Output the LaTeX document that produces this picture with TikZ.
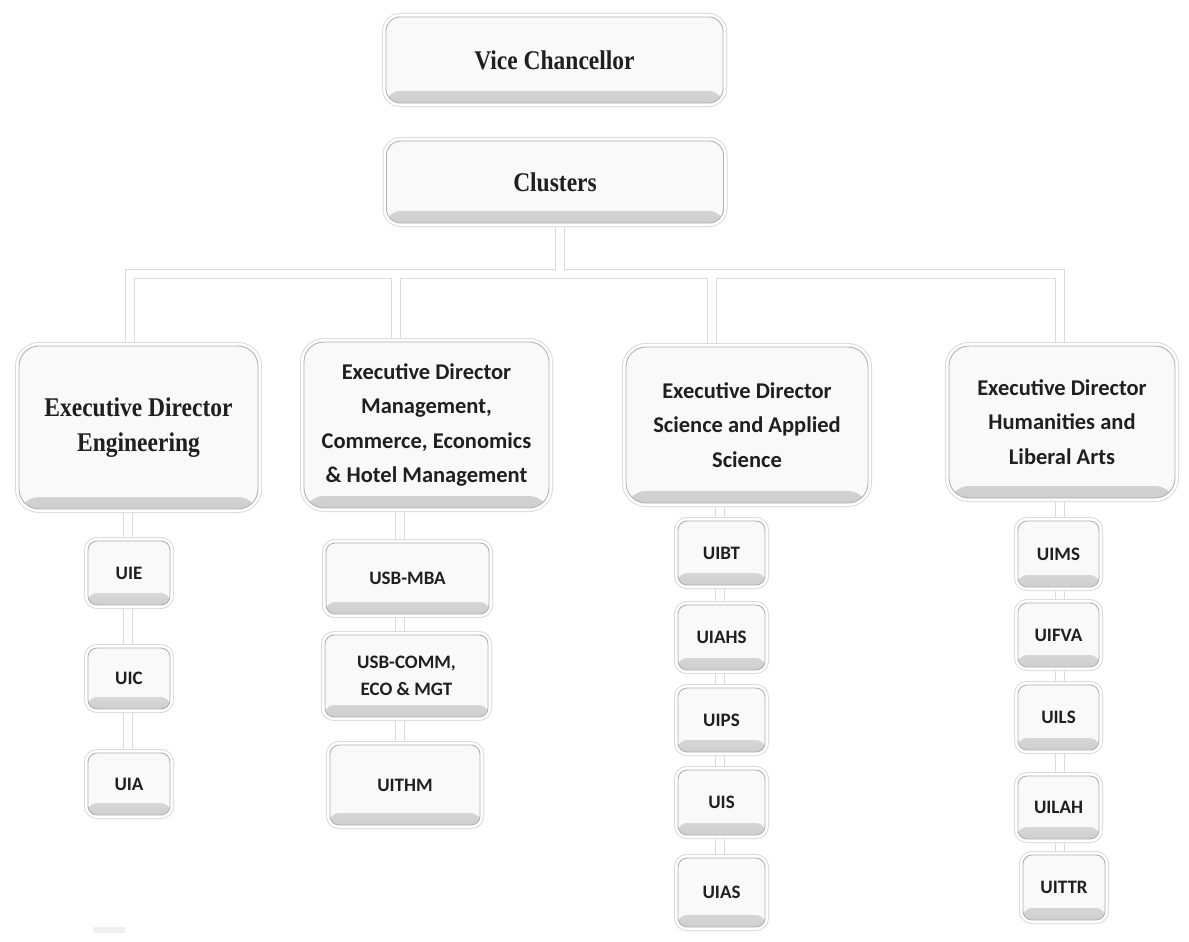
\documentclass[tikz,border=0pt]{standalone}
\usepackage{fontspec}
\newfontfamily\serifb{Liberation Serif}[FakeStretch=0.87]
\newfontfamily\sansb{Carlito}
\usetikzlibrary{backgrounds}
\tikzset{
  card/.style={rounded corners=#1, draw=gray!60, line width=0.9pt, fill=gray!5,
    preaction={draw=gray!28, line width=8pt},
    preaction={draw=white, line width=6pt},
    path picture={\shade[top color=gray!5, bottom color=gray!38]
      ([yshift=12pt]path picture bounding box.south west) rectangle (path picture bounding box.south east);},
    inner sep=0pt, align=center, text=black!88},
  top/.style={card=14pt, font=\serifb\bfseries\fontsize{27}{34}\selectfont},
  dirs/.style={card=20pt, font=\serifb\bfseries\fontsize{27}{35}\selectfont},
  dir/.style={card=20pt, font=\sansb\bfseries\fontsize{22.5}{34.5}\selectfont},
  unit/.style={card=9pt, font=\sansb\bfseries\fontsize{19}{27}\selectfont},
  linkout/.style={draw=gray!28, line width=10pt},
  linkin/.style={draw=white, line width=8pt},
}
\begin{document}
\begin{tikzpicture}[x=1pt,y=-1pt]
\useasboundingbox (0,0) rectangle (1189,942);

% top
\node[top, minimum width=337, minimum height=86] (vc) at (554.5,60) {Vice Chancellor};
\node[top, minimum width=337, minimum height=82] (cl) at (555,182) {Clusters};

% directors
\node[dirs, minimum width=239, minimum height=163] (ed1) at (138.5,427.5) {Executive Director\\Engineering};
\node[dir, minimum width=245, minimum height=166] (ed2) at (426.5,425) {Executive Director\\Management,\\Commerce, Economics\\\& Hotel Management};
\node[dir, minimum width=242, minimum height=156] (ed3) at (747,425) {Executive Director\\Science and Applied\\Science};
\node[dir, minimum width=226, minimum height=152] (ed4) at (1062,422) {Executive Director\\Humanities and\\Liberal Arts};

% engineering units
\node[unit, minimum width=82, minimum height=64] (uie) at (129,573) {UIE};
\node[unit, minimum width=82, minimum height=61] (uic) at (129,678.5) {UIC};
\node[unit, minimum width=82, minimum height=62] (uia) at (129,784) {UIA};

% management units
\node[unit, minimum width=163, minimum height=71] (mba) at (407.5,578.5) {USB-MBA};
\node[unit, minimum width=163, minimum height=82] (comm) at (406.5,676) {USB-COMM,\\ECO \& MGT};
\node[unit, minimum width=150, minimum height=80] (ithm) at (405,785) {UITHM};

% science units
\node[unit, minimum width=87, minimum height=64] (uibt) at (721.5,553) {UIBT};
\node[unit, minimum width=87, minimum height=65] (uiahs) at (721.5,637.5) {UIAHS};
\node[unit, minimum width=87, minimum height=64] (uips) at (721.5,720) {UIPS};
\node[unit, minimum width=87, minimum height=65] (uis) at (721.5,802.5) {UIS};
\node[unit, minimum width=87, minimum height=69] (uias) at (721.5,892.5) {UIAS};

% humanities units
\node[unit, minimum width=81, minimum height=66] (uims) at (1058.5,554) {UIMS};
\node[unit, minimum width=81, minimum height=64] (uifva) at (1058.5,635) {UIFVA};
\node[unit, minimum width=81, minimum height=65] (uils) at (1058.5,717.5) {UILS};
\node[unit, minimum width=81, minimum height=63] (uilah) at (1058.5,807.5) {UILAH};
\node[unit, minimum width=82, minimum height=65] (uittr) at (1064,887.5) {UITTR};

% junctions
\coordinate (bar) at (560,274);
\coordinate (j1) at (130,274);
\coordinate (j2) at (396,274);
\coordinate (j3) at (712,274);
\coordinate (j4) at (1060,274);
\coordinate (k1) at (128,0);
\coordinate (k2) at (400,0);
\coordinate (k3) at (720,0);
\coordinate (k4) at (1060,0);

\begin{pgfonlayer}{background}
\fill[white] (0,0) rectangle (1189,942);
\foreach \st in {linkout,linkin}{
  \draw[\st] (bar |- cl.south) -- (bar);
  \draw[\st, line cap=rect] (j1) -- (j4);
  \draw[\st] (j1) -- (j1 |- ed1.north);
  \draw[\st] (j2) -- (j2 |- ed2.north);
  \draw[\st] (j3) -- (j3 |- ed3.north);
  \draw[\st] (j4) -- (j4 |- ed4.north);
  \draw[\st] (k1 |- ed1.south) -- (k1 |- uia.center);
  \draw[\st] (k2 |- ed2.south) -- (k2 |- ithm.center);
  \draw[\st] (k3 |- ed3.south) -- (k3 |- uias.center);
  \draw[\st] (k4 |- ed4.south) -- (k4 |- uittr.center);
}
\end{pgfonlayer}

% faint mark
\fill[gray!12] (93,927) rectangle (125,933);
\end{tikzpicture}
\end{document}
